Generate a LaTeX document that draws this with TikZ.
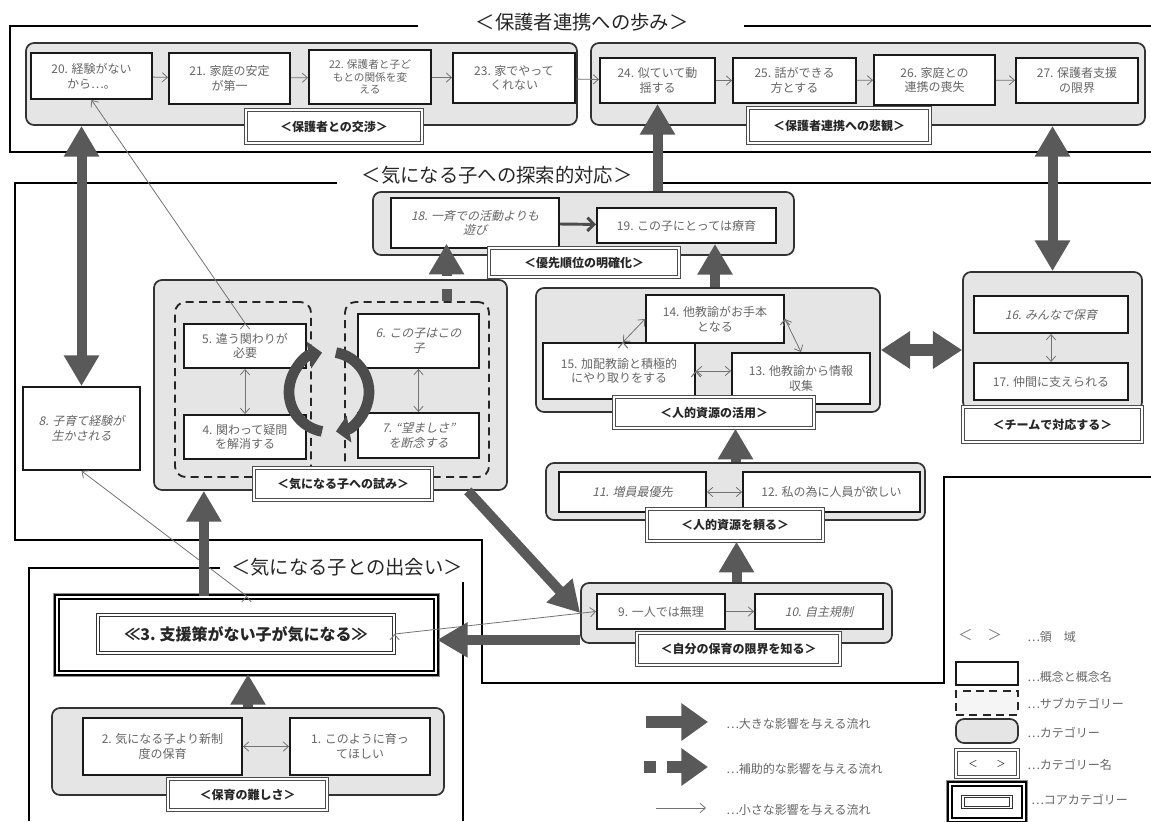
\documentclass[tikz,border=0pt]{standalone}
\usepackage{fontspec}
\setmainfont{Noto Sans CJK JP}
\newfontfamily\jpslant{Noto Sans CJK JP}[FakeSlant=0.22]
\usetikzlibrary{arrows.meta,positioning,calc}
\tikzset{
	sz/.style 2 args={minimum width=#1*0.75pt, minimum height=#2*0.75pt},
	region/.style={draw=black, line width=1.6pt},
	rtitle/.style={font=\fontsize{14.5}{16}\selectfont, text=black!85, inner sep=0pt},
	cat/.style={draw=black!80, line width=1.3pt, fill=black!10, rounded corners=6pt},
	subcat/.style={draw=black!85, line width=1.4pt, dash pattern=on 6pt off 4pt, rounded corners=8pt},
	concept/.style={draw=black!90, line width=1.4pt, fill=white, align=center, text=black!60,
		inner sep=1pt, font=\fontsize{9}{11}\selectfont},
	itconcept/.style={concept, font=\fontsize{9}{11}\selectfont\jpslant},
	catname/.style={draw=black!70, double=white, line width=1pt, double distance=1.2pt, fill=white,
		text=black!85, font=\fontsize{9}{11}\selectfont\bfseries},
	core/.style={draw=black, line width=1.6pt, double=white, double distance=1.3pt, fill=white,
		preaction={draw=black!45, line width=6.5pt}},
	corein/.style={draw=black!80, line width=0.9pt, double=white, double distance=1.1pt, fill=white},
	big/.style={draw=black!65, line width=7.5pt, -{Triangle[length=23pt,width=25pt]}},
	bigdbl/.style={draw=black!65, line width=7.5pt, {Triangle[length=23pt,width=25pt]}-{Triangle[length=23pt,width=25pt]}},
	bigdash/.style={big, dash pattern=on 9pt off 10pt},
	cyc/.style={draw=black!70, line width=8pt, -{Triangle[length=10pt,width=20pt]}},
	mid/.style={draw=black!70, line width=2.2pt, -{Straight Barb[length=5pt,width=10pt]}},
	thinarr/.style={draw=black!55, line width=0.6pt, -{Straight Barb[length=4pt,width=7pt]}},
	thindbl/.style={draw=black!55, line width=0.6pt, {Straight Barb[length=4pt,width=7pt]}-{Straight Barb[length=4pt,width=7pt]}},
	legtext/.style={anchor=west, text=black!60, inner sep=0pt, font=\fontsize{9}{11}\selectfont}
}

\begin{document}
\begin{tikzpicture}[x=0.75pt, y=-0.75pt]
	\useasboundingbox (0,0) rectangle (1151,821);
	
	% regions
	\draw[region] (418,26) -- (10,26) -- (10,152) -- (1151,152);
	\draw[region] (744,26) -- (1151,26);
	\draw[region] (337,183) -- (15,183) -- (15,540) -- (482,540) -- (482,683) -- (944,683) -- (944,477) -- (1151,477);
	\draw[region] (663,183) -- (1151,183);
	\draw[region] (220,568) -- (29,568) -- (29,821);
	\draw[region] (463,582) -- (463,821);
	\node[rtitle] (t1) at (582,22) {＜保護者連携への歩み＞};
	\node[rtitle] (t2) at (497,175) {＜気になる子への探索的対応＞};
	\node[rtitle] (t3) at (347,567) {＜気になる子との出会い＞};
	
	% categories
	\node[cat, sz={551}{82}] (kosho) at (301.5,84) {};
	\node[cat, sz={554}{82}] (hikan) at (868,84) {};
	\node[cat, sz={421}{63}] (yusen) at (583.5,223.5) {};
	\node[cat, sz={344}{124}] (katsuyo) at (708,350) {};
	\node[cat, sz={179}{138}] (team) at (1052.5,341) {};
	\node[cat, sz={379}{57}] (tayoru) at (735.5,491.5) {};
	\node[cat, sz={311}{60}] (genkai) at (736.5,613) {};
	\node[cat, sz={353}{210}] (kokoromi) at (330.5,385) {};
	\node[cat, sz={392}{87}] (muzu) at (248,751.5) {};
	\node[subcat, sz={136}{175}] (s5) at (243,389.5) {};
	\node[subcat, sz={144}{175}] (s6) at (417,389.5) {};
	
	% concepts
	\node[concept, sz={121}{46}] (c20) at (91.5,76) {20. 経験がない\\から…。};
	\node[concept, sz={121}{51}] (c21) at (229.5,78.5) {21. 家庭の安定\\が第一};
	\node[concept, sz={122}{54}, font=\fontsize{8}{9.5}\selectfont] (c22) at (370,77) {22. 保護者と子ど\\もとの関係を変\\える};
	\node[concept, sz={122}{50}] (c23) at (514,78) {23. 家でやって\\くれない};
	\node[concept, sz={115}{45}] (c24) at (657.5,80.5) {24. 似ていて動\\揺する};
	\node[concept, sz={123}{45}] (c25) at (794.5,80.5) {25. 話ができる\\方とする};
	\node[concept, sz={121}{50}] (c26) at (934.5,80) {26. 家庭との\\連携の喪失};
	\node[concept, sz={122}{45}] (c27) at (1077,80.5) {27. 保護者支援\\の限界};
	
	\node[itconcept, sz={168}{50}] (c18) at (475,223) {18. 一斉での活動よりも\\遊び};
	\node[concept, sz={179}{35}] (c19) at (686.5,225.5) {19. この子にとっては療育};
	\node[concept, sz={138}{48}] (c14) at (715,319) {14. 他教諭がお手本\\となる};
	\node[concept, sz={152}{56}] (c15) at (619,371) {15. 加配教諭と積極的\\にやり取りをする};
	\node[concept, sz={138}{51}] (c13) at (801,378.5) {13. 他教諭から情報\\収集};
	\node[itconcept, sz={154}{37}] (c16) at (1051,314.5) {16. みんなで保育};
	\node[concept, sz={154}{37}] (c17) at (1051,381.5) {17. 仲間に支えられる};
	\node[itconcept, sz={147}{40}] (c11) at (632.5,492) {11. 増員最優先};
	\node[concept, sz={177}{40}] (c12) at (831.5,492) {12. 私の為に人員が欲しい};
	\node[concept, sz={128}{35}] (c9) at (661,611.5) {9. 一人では無理};
	\node[itconcept, sz={128}{35}] (c10) at (819,611.5) {10. 自主規制};
	\node[concept, sz={122}{44}] (c5) at (245,346) {5. 違う関わりが\\必要};
	\node[concept, sz={122}{44}] (c4) at (245,437) {4. 関わって疑問\\を解消する};
	\node[itconcept, sz={121}{54}] (c6) at (418.5,341) {6. この子はこの\\子};
	\node[itconcept, sz={121}{45}] (c7) at (418.5,435.5) {7. “望ましさ”\\を断念する};
	\node[itconcept, sz={117}{83}] (c8) at (81.5,428.5) {8. 子育て経験が\\生かされる};
	\node[concept, sz={159}{57}] (c2) at (162.5,746.5) {2. 気になる子より新制\\度の保育};
	\node[concept, sz={140}{57}] (c1) at (360,746.5) {1. このように育っ\\てほしい};
	
	% core category
	\node[core, sz={379}{76}] (core) at (246.5,635) {};
	\node[corein, sz={296}{38}, font=\fontsize{12}{14}\selectfont\bfseries, text=black!85] (core-in) at (246,634) {≪3.\ 支援策がない子が気になる≫};
	
	% category names
	\node[catname, sz={176}{33}] (kosho-n) at (334,126.5) {＜保護者との交渉＞};
	\node[catname, sz={182}{35}] (hikan-n) at (839,125.5) {＜保護者連携への悲観＞};
	\node[catname, sz={190}{29}] (yusen-n) at (584,262.5) {＜優先順位の明確化＞};
	\node[catname, sz={200}{31}] (katsuyo-n) at (714,412.5) {＜人的資源の活用＞};
	\node[catname, sz={179}{35}] (team-n) at (1052.5,424.5) {＜チームで対応する＞};
	\node[catname, sz={176}{32}] (tayoru-n) at (735,525) {＜人的資源を頼る＞};
	\node[catname, sz={203}{32}] (genkai-n) at (738.5,649) {＜自分の保育の限界を知る＞};
	\node[catname, sz={178}{32}] (kokoromi-n) at (343,484) {＜気になる子への試み＞};
	\node[catname, sz={159}{31}] (muzu-n) at (247.5,794.5) {＜保育の難しさ＞};
	
	% small flows
	\path[thinarr] (c20) edge (c21) (c21) edge (c22) (c22) edge (c23) (c23) edge (c24)
		(c24) edge (c25) (c25) edge (c26) (c26) edge (c27);
	\path[thinarr] (c9) edge (c10);
	\path[thinarr] (c5.north) edge (c20.south);
	\path[thinarr] (core.north) edge (c8.south);
	\path[thinarr] (core-in.east) edge (c9.west);
	\path[thindbl] (c5) edge (c4) (c6) edge (c7) (c16) edge (c17) (c11) edge (c12) (c2) edge (c1);
	\path[thindbl] ([xshift=3pt]c15.north) edge (c14.west);
	\path[thindbl] (c14.east) edge (c13.north);
	\path[thindbl] (c15.east) edge (c15.east -| c13.west);
	\path[mid] (c18) edge (c19);
	
	% cycle
	\coordinate (cyc) at (329,392);
	\draw[cyc] (cyc) ++(260:30pt) arc[start angle=260, end angle=100, radius=30pt];
	\draw[cyc] (cyc) ++(80:30pt) arc[start angle=80, end angle=-80, radius=30pt];
	
	% big flows
	\draw[bigdbl] (c8.north |- kosho.south) -- (c8.north);
	\draw[big] (c24.south |- yusen.north) -- (c24.south);
	\draw[bigdbl] (team.north |- hikan.south) -- (team.north);
	\draw[big] (katsuyo.north -| c14.north) -- (c19.south -| c14.north);
	\draw[big] (tayoru.north) -- (tayoru.north |- katsuyo-n.south);
	\draw[big] (genkai.north) -- (genkai.north |- tayoru-n.south);
	\draw[big] ([xshift=-30pt]kokoromi.south east) -- (genkai.west);
	\draw[big] ([yshift=3pt]genkai.south west) -- ([yshift=3pt]genkai.south west -| core.east);
	\draw[big] ([xshift=-32pt]core.north) -- ([xshift=-32pt]core.north |- kokoromi.south);
	\draw[big] (muzu.north) -- (muzu.north |- core.south);
	\draw[bigdbl, line width=9pt, {Triangle[length=22pt,width=27pt]}-{Triangle[length=22pt,width=27pt]}] (katsuyo.east) -- (katsuyo.east -| team.west);
	\draw[bigdash] ([xshift=21pt,yshift=9pt]c6.north) -- ([xshift=21pt,yshift=4pt]c6.north |- c18.south);
	
	% legend
	\node[text=black!50, inner sep=0pt, font=\fontsize{11}{12}\selectfont] (lg0) at (980,635) {＜　＞};
	\node[legtext] (lt0) at (1027,637) {…領　域};
	\node[concept, sz={62}{23}] (lg1) at (987,673.5) {};
	\node[legtext] (lt1) at (1027,677) {…概念と概念名};
	\node[subcat, fill=black!4, rounded corners=0pt, sz={62}{24}] (lg2) at (987,703) {};
	\node[legtext] (lt2) at (1027,704) {…サブカテゴリー};
	\node[cat, sz={62}{24}] (lg3) at (987,731) {};
	\node[legtext] (lt3) at (1027,733) {…カテゴリー};
	\node[catname, sz={62}{27}, font=\fontsize{7}{8}\selectfont] (lg4) at (987,763.5) {＜　　＞};
	\node[legtext] (lt4) at (1027,765) {…カテゴリー名};
	\node[core, sz={74}{36}] (lg5) at (987,802) {};
	\node[corein, sz={48}{11}] (lg5in) at (987,802) {};
	\node[legtext] (lt5) at (1031,800) {…コアカテゴリー};
	
	\coordinate (la1) at (646,722);
	\coordinate (lb1) at (708,722);
	\draw[big, line width=9pt, -{Triangle[length=20pt,width=27pt]}] (la1) -- (lb1);
	\node[legtext] (lf1) at (726,724) {…大きな影響を与える流れ};
	\fill[black!65] (644,761) rectangle (656,773);
	\coordinate (la2) at (667,767);
	\coordinate (lb2) at (708,767);
	\draw[big, line width=9pt, -{Triangle[length=20pt,width=27pt]}] (la2) -- (lb2);
	\node[legtext] (lf2) at (726,769) {…補助的な影響を与える流れ};
	\coordinate (la3) at (656,808);
	\coordinate (lb3) at (706,808);
	\draw[thinarr] (la3) -- (lb3);
	\node[legtext] (lf3) at (726,810) {…小さな影響を与える流れ};
\end{tikzpicture}
\end{document}
